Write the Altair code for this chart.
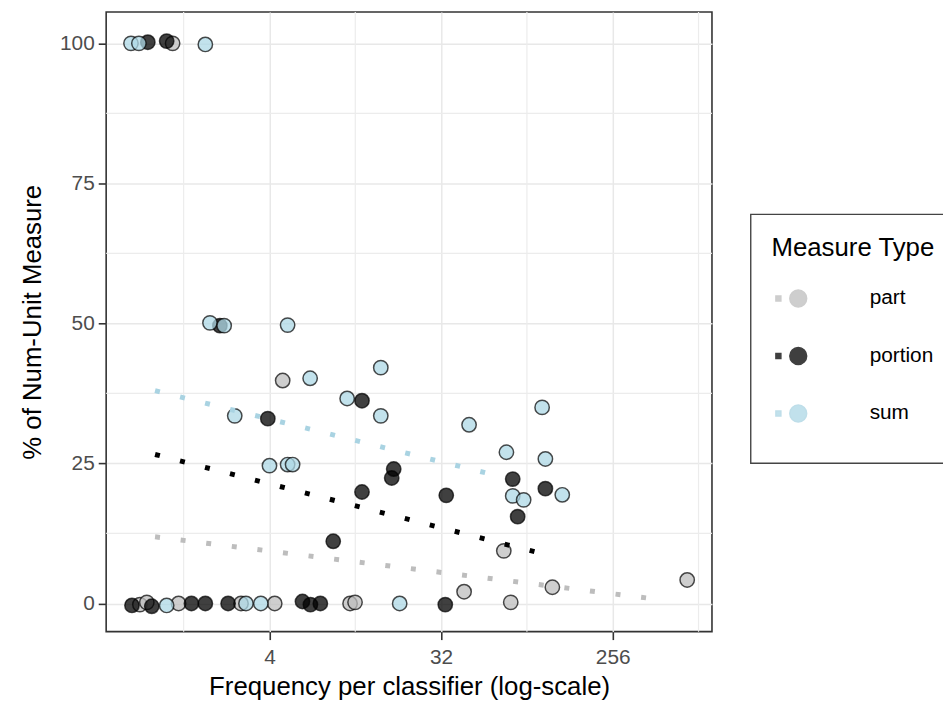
import altair as alt
import pandas as pd

TYPES = ["part", "portion", "sum"]

# ---- points: frequency per classifier (x), % of Num-Unit Measure (y)
part_x = [1.237, 4.694, 68.4, 42.28, 123.2, 631, 0.832, 0.905, 1.330, 2.834, 4.263, 10.62, 11.28, 74.4]
part_y = [100.0, 39.8, 9.4, 2.1, 2.9, 4.2, -0.2, 0.2, 0.0, 0.0, 0.0, 0.0, 0.2, 0.2]

portion_x = [0.916, 1.151, 2.193, 3.920, 12.27, 18.02, 17.59, 12.27, 8.66, 34.06, 76.2, 113.2, 80.9,
             0.756, 0.961, 1.554, 1.839, 2.423, 5.967, 6.570, 7.408, 33.66]
portion_y = [100.2, 100.4, 49.6, 33.0, 36.2, 24.0, 22.4, 19.9, 11.1, 19.3, 22.2, 20.5, 15.5,
             -0.35, -0.5, 0.0, 0.0, 0.0, 0.35, -0.2, 0.0, -0.2]

sum_x = [0.747, 0.822, 1.839, 1.945, 2.310, 4.983, 15.41, 6.547, 10.25, 15.41, 2.626, 4.0, 4.983,
         5.293, 44.91, 108.8, 70.6, 113.2, 138.9, 76.2, 87.0, 1.151, 3.008, 3.602, 19.37]
sum_y = [100.0, 100.0, 99.8, 50.1, 49.6, 49.7, 42.1, 40.2, 36.6, 33.5, 33.5, 24.6, 24.8,
         24.8, 31.9, 35.0, 27.0, 25.8, 19.4, 19.2, 18.5, -0.35, 0.0, 0.0, 0.0]

# ---- dotted trend lines (end points)
fit_type = ["part", "part", "portion", "portion", "sum", "sum"]
fit_x = [1, 404, 1, 103, 1, 60]
fit_y = [11.9, 0.9, 26.6, 9.1, 38.0, 23.0]

# ---- ticks / grid
x_ticks = [4, 32, 256]
x_minor = [1.414, 11.31, 90.51, 724.1]
y_ticks = [0, 25, 50, 75, 100]
y_minor = [12.5, 37.5, 62.5, 87.5]

fill_colors = ["#bebebe", "#000000", "#add8e6"]
line_colors = ["#bdbdbd", "#000000", "#a9d3e2"]

rows = []
for t, xs, ys in [("part", part_x, part_y), ("portion", portion_x, portion_y), ("sum", sum_x, sum_y)]:
    for a, b in zip(xs, ys):
        rows.append({"type": t, "freq": a, "pct": b})
pts = pd.DataFrame(rows)
fits = pd.DataFrame({"type": fit_type, "freq": fit_x, "pct": fit_y})
xminor_df = pd.DataFrame({"freq": x_minor})
yminor_df = pd.DataFrame({"pct": y_minor})

FONT = "Liberation Sans"
xscale = alt.Scale(type="log", base=2, domain=[0.553, 852], nice=False)
yscale = alt.Scale(domain=[-5.03, 105.6], nice=False, zero=False)
xaxis = alt.Axis(values=x_ticks, format="d", title="Frequency per classifier (log-scale)",
                 labelPadding=7, titlePadding=6)
yaxis = alt.Axis(values=y_ticks, title="% of Num-Unit Measure", labelPadding=4, titlePadding=14)


def X():
    return alt.X("freq:Q", scale=xscale, axis=xaxis)


def Y():
    return alt.Y("pct:Q", scale=yscale, axis=yaxis)


legend_path = ("M -0.866 -0.096 L -0.674 -0.096 L -0.674 0.096 L -0.866 0.096 Z "
               "M 0.327 0 A 0.327 0.327 0 1 1 -0.327 0 A 0.327 0.327 0 1 1 0.327 0 Z")

vminor = alt.Chart(xminor_df).mark_rule(color="#ececec", strokeWidth=1.2).encode(x=X())
hminor = alt.Chart(yminor_df).mark_rule(color="#ececec", strokeWidth=1.2).encode(y=Y())

points = alt.Chart(pts).mark_circle(
    size=210, stroke="black", strokeWidth=1.5, strokeOpacity=0.7, fillOpacity=0.75, opacity=1
).encode(
    x=X(),
    y=Y(),
    fill=alt.Fill(
        "type:N",
        scale=alt.Scale(domain=TYPES, range=fill_colors),
        legend=alt.Legend(
            title="Measure Type", orient="none", legendX=650, legendY=204,
            padding=21, strokeColor="#444444",
            titleFont=FONT, titleFontSize=26, titleFontWeight="normal", titleColor="black",
            titlePadding=9,
            labelFont=FONT, labelFontSize=21, labelColor="black", labelOffset=45,
            rowPadding=0, clipHeight=58,
            symbolType=legend_path, symbolSize=2704, symbolStrokeColor="black",
            symbolStrokeWidth=1.5, symbolOpacity=0.75,
        ),
    ),
)

lines = alt.Chart(fits).mark_line(strokeWidth=5, strokeDash=[5, 21], strokeCap="butt").encode(
    x=X(),
    y=Y(),
    stroke=alt.Stroke("type:N", scale=alt.Scale(domain=TYPES, range=line_colors), legend=None),
)

chart = alt.layer(vminor, hminor, points, lines).properties(
    width=611, height=625,
    autosize=alt.AutoSizeParams(type="none"),
    padding={"left": 99, "top": 1, "right": 233, "bottom": 73},
).configure_view(
    stroke="#333333", strokeWidth=1.6
).configure_axis(
    labelFont=FONT, titleFont=FONT, labelFontSize=21, titleFontSize=26,
    labelColor="#4d4d4d", titleColor="black", titleFontWeight="normal",
    tickColor="#333333", tickWidth=1.6, tickSize=8, domain=False,
    gridColor="#e8e8e8", gridWidth=1.5,
).configure_legend(
    strokeWidth=1.4
)

chart.save("out.html", embed_options={"renderer": "svg", "actions": False})
